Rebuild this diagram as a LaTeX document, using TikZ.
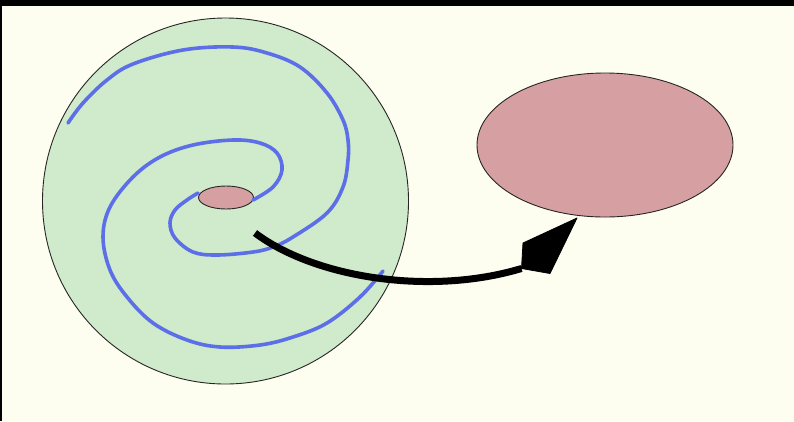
\documentclass[tikz,border=0pt]{standalone}
\usetikzlibrary{shapes.geometric}
\definecolor{bgcream}{RGB}{253,254,240}
\definecolor{diskgreen}{RGB}{208,234,204}
\definecolor{holepink}{RGB}{214,160,162}
\definecolor{spiralblue}{RGB}{92,110,232}
\begin{document}
\begin{tikzpicture}[x=1pt,y=-1pt,
  outline/.style={draw=black!85,line width=0.9pt},
  disk/.style={circle,outline,fill=diskgreen,inner sep=0pt,outer sep=0pt},
  blob/.style={ellipse,outline,fill=holepink,inner sep=0pt,outer sep=0pt},
  arm/.style={draw=spiralblue,line width=3.6pt,line cap=round,line join=round},
  shaft/.style={draw=black,line width=7pt},
  headfill/.style={fill=black,draw=black,line width=0.8pt,line join=round}]
\useasboundingbox (0,0) rectangle (794,421);
\fill[bgcream] (0,0) rectangle (794,421);
\fill[black] (0,0) rectangle (794,6);
\fill[black] (0,0) rectangle (2,421);
\node[disk,minimum size=366pt] (galaxy) at (225.5,201) {};
\node[blob,minimum width=256pt,minimum height=144pt] (target) at (605,145) {};
\node[blob,minimum width=55pt,minimum height=23pt] (core) at (226,197.5) {};
% spiral arms
\draw[arm] plot[smooth,tension=0.6] coordinates {(68,123) (83,103) (107,80) (133,64) (183,50) (233,47) (267,53) (300,67) (327,93) (343,120) (348,140) (348,160) (343,187) (327,213) (293,237) (273,247) (253,252) (217,255) (193,252) (175,238) (170,223) (175,210) (187,200) (198,193)};
\draw[arm] plot[smooth,tension=0.6] coordinates {(253,200) (273,187) (282,170) (277,153) (260,143) (233,140) (193,145) (160,157) (133,177) (110,207) (103,237) (110,270) (127,297) (153,323) (187,340) (220,347) (260,345) (293,337) (327,323) (360,297) (383,271)};
% arrow
\coordinate (from) at (255,233);
\coordinate (tip) at (577,218);
\coordinate (hbl) at (521.5,268.5);
\coordinate (hul) at (523,243);
\coordinate (hbr) at (550,273.5);
\draw[shaft] (from) .. controls (315,278) and (430,296) .. (hbl);
\filldraw[headfill] (tip) -- (hul) -- (hbl) -- (hbr) -- cycle;
\end{tikzpicture}
\end{document}
